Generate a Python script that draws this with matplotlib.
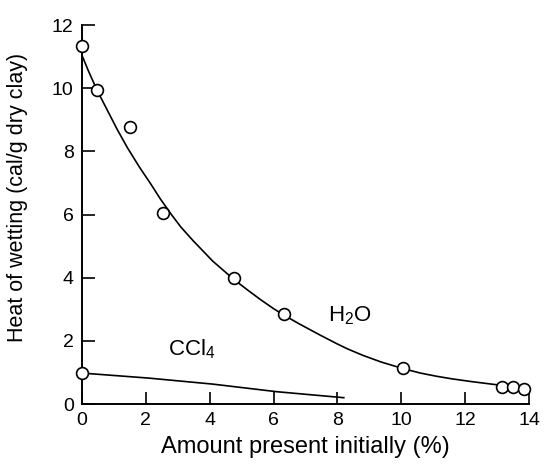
import matplotlib
matplotlib.use("Agg")
import matplotlib.pyplot as plt

plt.rcParams['font.family'] = ['Liberation Sans', 'DejaVu Sans']
plt.rcParams['mathtext.default'] = 'regular'

# measured points (open circles), water
h2o_x = [0.0, 0.47, 1.5, 2.55, 4.75, 6.32, 10.06, 13.14, 13.49, 13.84]
h2o_y = [11.33, 9.94, 8.77, 6.04, 3.99, 2.85, 1.14, 0.54, 0.54, 0.47]

# smooth curve drawn through the water data
curve_x = [0.0, 0.2, 0.47, 1.1, 1.42, 1.8, 2.14, 2.45, 2.8, 3.1, 3.5, 4.1, 4.75,
           5.2, 5.6, 6.0, 6.3, 6.8, 7.5, 8.0, 8.33, 8.8, 9.37, 10.06, 10.6,
           11.1, 11.57, 12.2, 12.83, 13.3, 13.84]
curve_y = [11.04, 10.55, 9.94, 8.7, 8.12, 7.5, 6.99, 6.5, 6.0, 5.6, 5.15, 4.52, 3.95,
           3.6, 3.3, 3.02, 2.83, 2.54, 2.16, 1.9, 1.74, 1.54, 1.33, 1.12, 0.98,
           0.88, 0.8, 0.71, 0.63, 0.57, 0.5]

# carbon tetrachloride
ccl4_x = [0.0, 2.1, 4.1, 6.1, 8.2]
ccl4_y = [0.98, 0.82, 0.63, 0.39, 0.2]

xticks = [0, 2, 4, 6, 8, 10, 12, 14]
yticks = [0, 2, 4, 6, 8, 10, 12]

fig = plt.figure(figsize=(5.44, 4.66), dpi=100)
ax = fig.add_axes([0.1507, 0.1330, 0.8217, 0.8133])

ax.plot(curve_x, curve_y, color='black', linewidth=1.2, zorder=2)
ax.plot(ccl4_x, ccl4_y, color='black', linewidth=1.2, zorder=2)
ax.plot(h2o_x, h2o_y, linestyle='none', marker='o', markersize=8.5,
        markerfacecolor='white', markeredgecolor='black', markeredgewidth=1.2,
        clip_on=False, zorder=3)
ax.plot([ccl4_x[0]], [ccl4_y[0]], linestyle='none', marker='o', markersize=8.5,
        markerfacecolor='white', markeredgecolor='black', markeredgewidth=1.2,
        clip_on=False, zorder=3)

ax.text(8.4, 2.8, 'H$_2$O', fontsize=16, ha='center', va='center')
ax.text(3.45, 1.75, 'CCl$_4$', fontsize=16, ha='center', va='center')

ax.set_xlim(0, 14)
ax.set_ylim(0, 12)
ax.set_xticks(xticks)
ax.set_yticks(yticks)
ax.tick_params(direction='in', length=9, width=1.2, labelsize=14, pad=6)

for side in ['top', 'right']:
    ax.spines[side].set_visible(False)
for side in ['left', 'bottom']:
    ax.spines[side].set_linewidth(1.4)

ax.set_xlabel('Amount present initially (%)', fontsize=17, labelpad=5)
ax.set_ylabel('Heat of wetting (cal/g dry clay)', fontsize=15.5)
ax.yaxis.set_label_coords(-0.12, 0.545)

fig.savefig('out.png', dpi=100)
